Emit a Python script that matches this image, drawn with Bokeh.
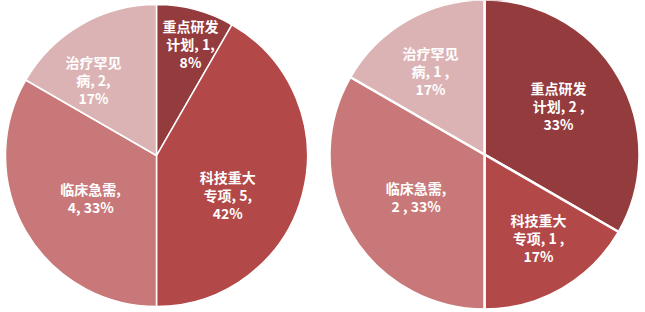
import math
from bokeh.plotting import figure
from bokeh.models import ColumnDataSource
from bokeh.core.properties import value
from bokeh.embed import file_html
from bokeh.resources import INLINE

categories = ["重点研发计划", "科技重大专项", "临床急需", "治疗罕见病"]
left_values = [1, 5, 4, 2]
left_pcts = ["8%", "42%", "33%", "17%"]
right_values = [2, 1, 2, 1]
right_pcts = ["33%", "17%", "33%", "17%"]

left_labels = ["重点研发\n计划, 1,\n8%", "科技重大\n专项, 5,\n42%", "临床急需,\n4, 33%", "治疗罕见\n病, 2,\n17%"]
right_labels = ["重点研发\n计划, 2 ,\n33%", "科技重大\n专项, 1 ,\n17%", "临床急需,\n2 , 33%", "治疗罕见\n病, 1 ,\n17%"]

colors = ["#943B3D", "#B24848", "#C97879", "#DBB3B4"]

W, H = 645, 312
p = figure(width=W, height=H, x_range=(0, W), y_range=(0, H),
           output_backend="svg", toolbar_location=None, min_border=0)
p.axis.visible = False
p.grid.visible = False
p.outline_line_color = None
p.background_fill_color = "white"


def draw_pie(cx, cy, r, vals, labels, lab_r, lab_da, lw):
    total = sum(vals)
    starts, ends, lx, ly = [], [], [], []
    cum = 0
    for i, v in enumerate(vals):
        a0 = 90 - 360 * (cum + v) / total
        a1 = 90 - 360 * cum / total
        cum += v
        starts.append(math.radians(a0))
        ends.append(math.radians(a1))
        mid = math.radians((a0 + a1) / 2 + lab_da[i])
        lx.append(cx + lab_r[i] * r * math.cos(mid))
        ly.append(cy + lab_r[i] * r * math.sin(mid))
    src = ColumnDataSource(dict(start=starts, end=ends, color=colors[:len(vals)],
                                lx=lx, ly=ly, label=labels))
    p.wedge(x=cx, y=cy, radius=r, start_angle="start", end_angle="end",
            fill_color="color", line_color="white", line_width=lw, source=src)
    p.text(x="lx", y="ly", text="label", source=src, text_color="white",
           text_font=value("Noto Sans CJK SC"), text_font_size="14px",
           text_font_style="bold", text_align="center", text_baseline="middle",
           text_line_height=0.9)


draw_pie(156, H - 155, 151, left_values, left_labels,
         [0.77, 0.54, 0.52, 0.65], [-2, -14, 3, 10], 1.5)
draw_pie(484, H - 154, 155, right_values, right_labels,
         [0.57, 0.64, 0.52, 0.64], [3, 3, 2, 3], 2.5)

open("out.html", "w").write(file_html(p, INLINE))
